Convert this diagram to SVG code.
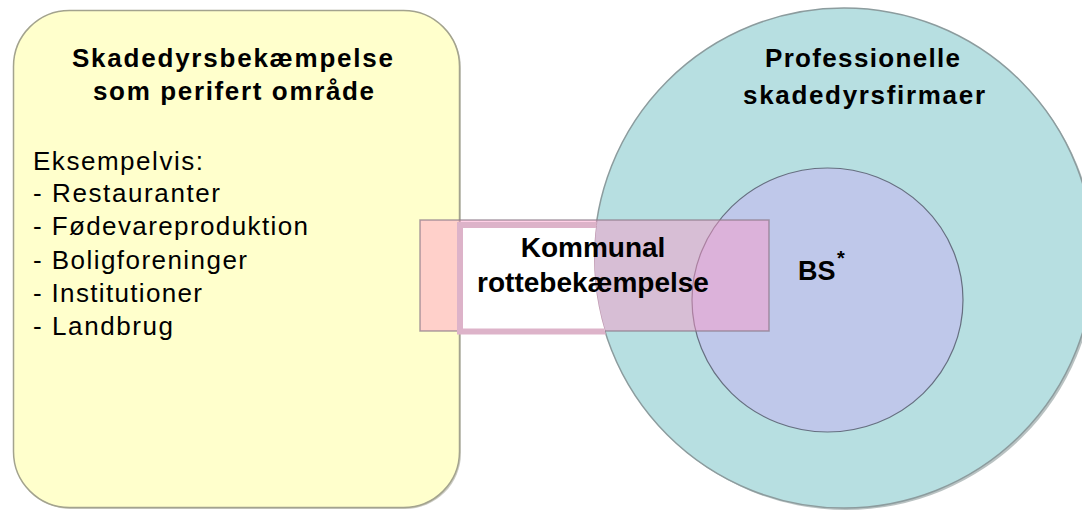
<svg xmlns="http://www.w3.org/2000/svg" width="1082" height="510" viewBox="0 0 1082 510">
<style>
.t{font-family:"Liberation Sans",Arial,sans-serif;fill:#000}
.b{font-weight:bold}
.r{font-size:26px}
.h{font-size:26px;font-weight:bold;text-anchor:middle}
</style>
<defs>
<clipPath id="outsideCircle">
<path clip-rule="evenodd" d="M0,0H1082V510H0Z M594,258 A250,250 0 1 0 1094,258 A250,250 0 1 0 594,258Z"/>
</clipPath>
</defs>
<rect width="1082" height="510" fill="#ffffff"/>
<g id="peripheral">
<rect x="15" y="12" width="446" height="497" rx="56" fill="#8a8a78" opacity="0.45"/>
<rect x="13.5" y="10.5" width="446" height="497" rx="56" fill="#FFFFCC" stroke="#A3A38E" stroke-width="1.5"/>
<text class="t h" x="232.5" y="67" textLength="321" lengthAdjust="spacing">Skadedyrsbekæmpelse</text>
<text class="t h" x="233.5" y="100" textLength="281" lengthAdjust="spacing">som perifert område</text>
<text class="t r" x="33" y="169.5" textLength="170" lengthAdjust="spacing">Eksempelvis:</text>
<text class="t r" x="33" y="202" textLength="187" lengthAdjust="spacing">- Restauranter</text>
<text class="t r" x="33" y="235" textLength="275" lengthAdjust="spacing">- Fødevareproduktion</text>
<text class="t r" x="33" y="268.5" textLength="214" lengthAdjust="spacing">- Boligforeninger</text>
<text class="t r" x="33" y="301.5" textLength="169" lengthAdjust="spacing">- Institutioner</text>
<text class="t r" x="33" y="335" textLength="140" lengthAdjust="spacing">- Landbrug</text>
</g>
<g id="professional">
<circle cx="846" cy="260" r="250" fill="#7f8f90" opacity="0.55"/>
<circle cx="844" cy="258" r="250" fill="#B7DFE1" stroke="#8C9C9E" stroke-width="1.5"/>
<text class="t h" x="862.5" y="67" textLength="195" lengthAdjust="spacing">Professionelle</text>
<text class="t h" x="864" y="104" textLength="242" lengthAdjust="spacing">skadedyrsfirmaer</text>
</g>
<g id="bs">
<ellipse cx="827.5" cy="300" rx="135.5" ry="132" fill="#BFC8EA" stroke="#666f80" stroke-width="1.2"/>
<text class="t b" x="798" y="280" font-size="27">BS</text>
<text class="t b" x="837" y="265" font-size="20">*</text>
</g>
<g id="kommunal">
<rect x="420" y="220" width="349" height="111" fill="rgb(255,150,200)" fill-opacity="0.45" stroke="#8a7888" stroke-opacity="0.7" stroke-width="1.5"/>
<rect x="460" y="225" width="200" height="106.5" fill="#ffffff" stroke="#DDB3C9" stroke-width="6" clip-path="url(#outsideCircle)"/>
<text class="t b" x="593" y="256.5" font-size="28" text-anchor="middle">Kommunal</text>
<text class="t b" x="593" y="291.5" font-size="28" text-anchor="middle">rottebekæmpelse</text>
</g>
<g id="connectors"></g>
</svg>
